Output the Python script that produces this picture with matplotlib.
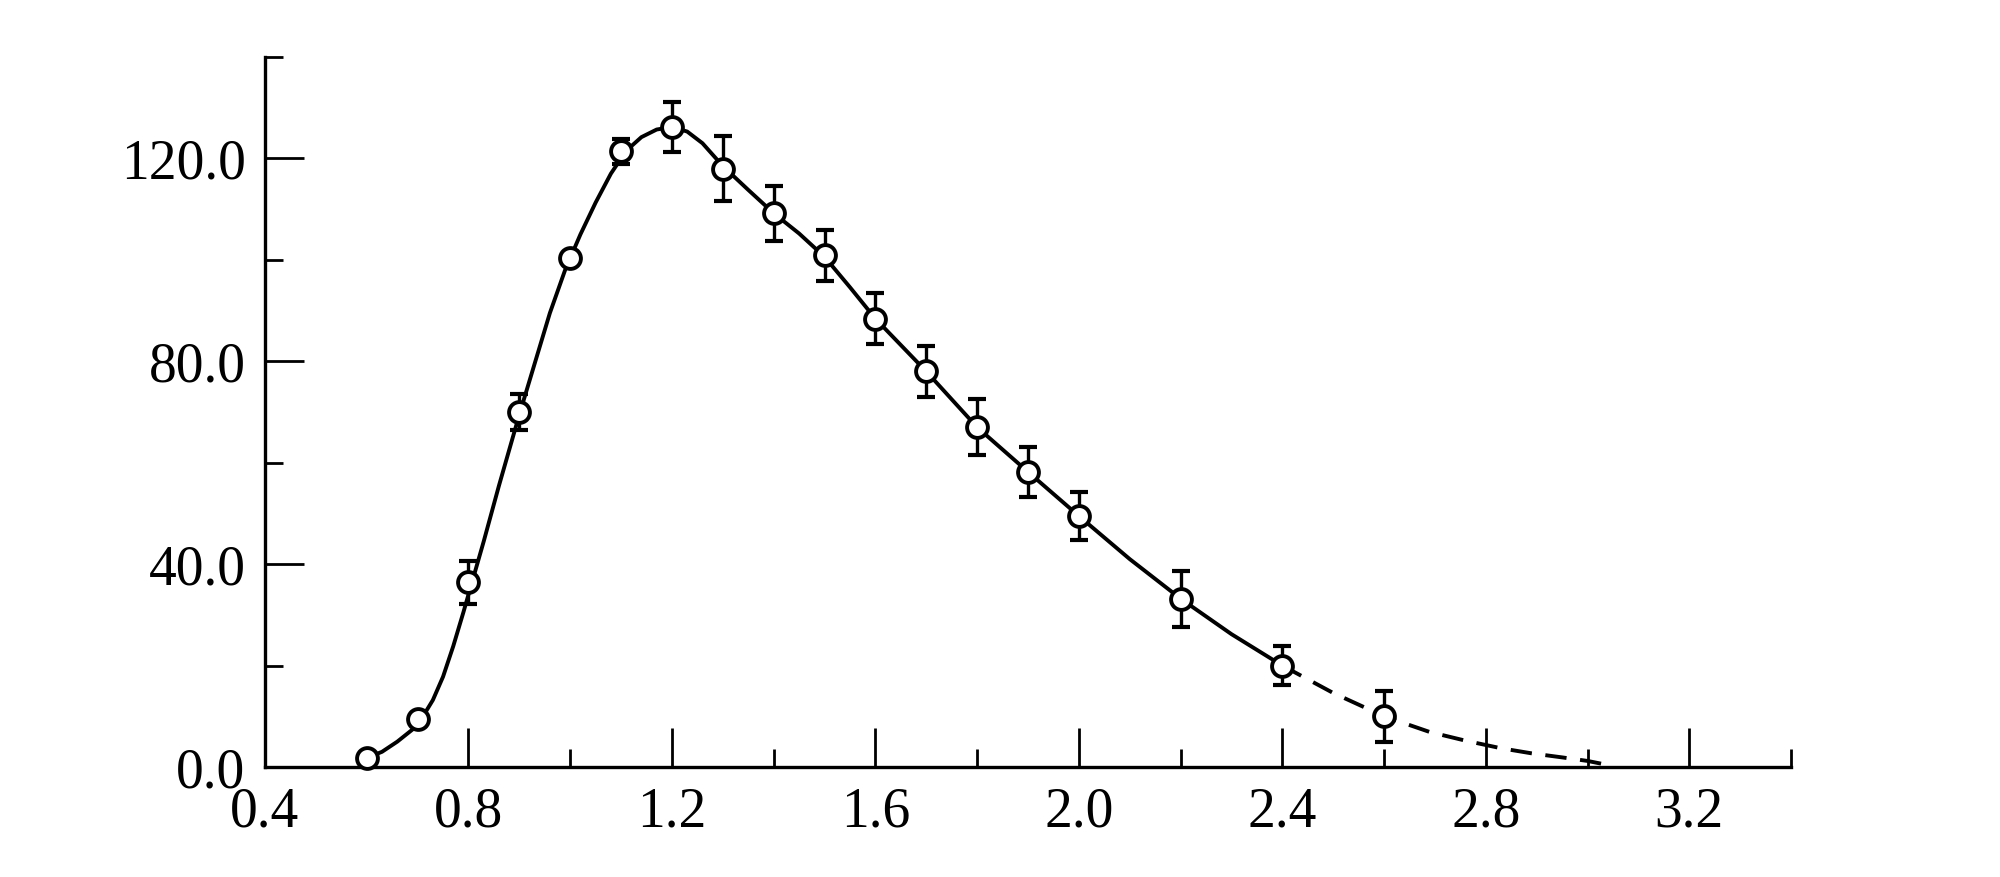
import numpy as np
import matplotlib
matplotlib.use('Agg')
import matplotlib.pyplot as plt

# measured points with error bars
x_pts = [0.6, 0.7, 0.8, 0.9, 1.0, 1.1, 1.2, 1.3, 1.4, 1.5, 1.6, 1.7, 1.8, 1.9, 2.0, 2.2, 2.4, 2.6]
y_pts = [1.8, 9.5, 36.4, 70.0, 100.3, 121.4, 126.2, 118.0, 109.2, 100.9, 88.4, 78.0, 67.0, 58.2, 49.5, 33.2, 20.0, 10.0]
y_err = [0, 0, 4.2, 3.6, 0, 2.4, 5.0, 6.4, 5.4, 5.0, 5.0, 5.0, 5.5, 5.0, 4.7, 5.5, 3.8, 5.0]

# hand-drawn curve through the points (solid part)
curve_x = [0.60, 0.63, 0.66, 0.69, 0.71, 0.73, 0.75, 0.77, 0.79, 0.81, 0.83, 0.86, 0.90,
           0.93, 0.96, 0.99, 1.02, 1.05, 1.08, 1.11, 1.14, 1.17, 1.20, 1.23, 1.26, 1.30,
           1.35, 1.40, 1.45, 1.50, 1.55, 1.60, 1.70, 1.80, 1.90, 2.00, 2.10, 2.20, 2.30, 2.40]
curve_y = [1.8, 3.0, 5.0, 7.4, 9.9, 13.2, 17.8, 23.8, 30.5, 37.5, 44.5, 55.5, 69.5,
           79.5, 89.5, 98.0, 105.0, 111.3, 117.0, 121.5, 124.2, 125.7, 126.2, 125.3, 123.0, 118.5,
           113.8, 109.2, 105.2, 100.6, 94.6, 88.4, 78.0, 67.0, 58.2, 49.5, 41.0, 33.2, 26.2, 20.0]

# extrapolated tail (dashed)
tail_x = [2.40, 2.50, 2.60, 2.69, 2.76, 2.83, 2.89, 2.95, 3.00, 3.04]
tail_y = [20.0, 14.6, 10.0, 6.9, 5.2, 3.7, 2.7, 1.9, 1.2, 0.4]

x_major = [0.4, 0.8, 1.2, 1.6, 2.0, 2.4, 2.8, 3.2]
x_minor = [1.0, 1.4, 1.8, 2.2, 2.6, 3.0, 3.4]
y_major = [0, 40, 80, 120]
y_minor = [20, 60, 100, 140]

plt.rcParams['font.family'] = ['Liberation Serif', 'DejaVu Serif']

fig = plt.figure(figsize=(20, 8.77), dpi=100)
ax = fig.add_axes([0.1325, 0.1254, 0.763, 0.8096])

ax.plot(curve_x, curve_y, color='black', lw=2.8, zorder=2, solid_joinstyle='round')
ax.plot(tail_x, tail_y, color='black', lw=2.8, dashes=(5.5, 3.5), zorder=2)

ax.errorbar(x_pts, y_pts, yerr=y_err, fmt='none', ecolor='black',
            elinewidth=2.4, capsize=6.5, capthick=3.0, zorder=3)
ax.plot(x_pts, y_pts, 'o', ms=15, mfc='white', mec='black', mew=2.8, zorder=4, clip_on=False)

ax.set_xlim(0.4, 3.4)
ax.set_ylim(0, 140)

# only left and bottom axes, ticks pointing inwards
ax.spines['top'].set_visible(False)
ax.spines['right'].set_visible(False)
ax.spines['left'].set_linewidth(2.4)
ax.spines['bottom'].set_linewidth(2.4)

ax.set_xticks(x_major)
ax.set_xticklabels([f'{v:.1f}' for v in x_major])
ax.set_xticks(x_minor, minor=True)
ax.set_yticks(y_major)
ax.set_yticklabels([f'{v:.1f}' for v in y_major])
ax.set_yticks(y_minor, minor=True)

ax.tick_params(which='major', direction='in', length=28, width=2.0, labelsize=40, pad=14, colors='black')
ax.tick_params(which='minor', direction='in', length=13, width=2.0)

fig.savefig('out.png', dpi=100, facecolor='white')
